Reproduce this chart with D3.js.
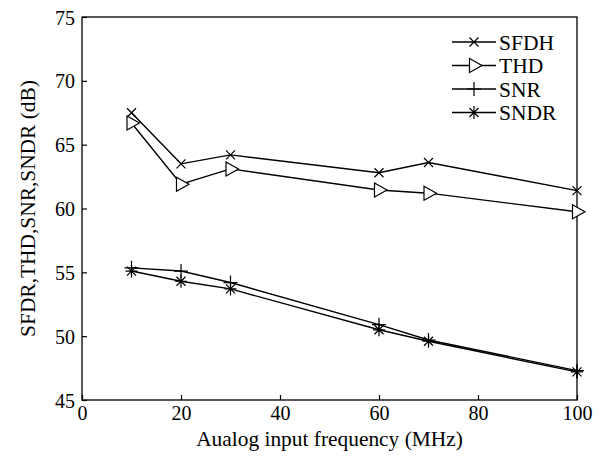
<!DOCTYPE html>
<html>
<head>
<meta charset="utf-8">
<script src="https://cdn.jsdelivr.net/npm/d3@7"></script>
<style>
  body { margin: 0; background: #fff; }
  text { font-family: "Liberation Serif", "Times New Roman", serif; fill: #000; }
</style>
</head>
<body>
<svg id="chart" width="603" height="459"></svg>
<script>
// values
const freq = [10, 20, 30, 60, 70, 100];
const sfdh = [67.5, 63.5, 64.2, 62.8, 63.6, 61.4];
const thd  = [66.7, 61.9, 63.1, 61.45, 61.2, 59.75];
const snr  = [55.35, 55.1, 54.2, 50.9, 49.7, 47.3];
const sndr = [55.1, 54.3, 53.7, 50.5, 49.6, 47.2];
const seriesNames = ["SFDH", "THD", "SNR", "SNDR"];
const xTicks = [0, 20, 40, 60, 80, 100];
const yTicks = [45, 50, 55, 60, 65, 70, 75];

const svg = d3.select("#chart");
const plotL = 82, plotR = 577, plotT = 17, plotB = 400;

const x = d3.scaleLinear().domain([0, 100]).range([plotL, plotR]);
const y = d3.scaleLinear().domain([45, 75]).range([plotB, plotT]);

// marker drawing
function marker(g, kind, cx, cy) {
    const m = g.append("g").attr("transform", `translate(${cx},${cy})`)
        .attr("fill", "none").attr("stroke", "#000").attr("stroke-width", 1.2);
    if (kind === "SFDH") {
        m.append("path").attr("d", "M-4.5,-4.5L4.5,4.5M-4.5,4.5L4.5,-4.5");
    } else if (kind === "THD") {
        m.append("path").attr("d", "M-4.5,-7L8,0L-4.5,7Z").attr("fill", "#fff");
    } else if (kind === "SNR") {
        m.append("path").attr("d", "M-7,0L7,0M0,-7L0,7");
    } else {
        m.append("path").attr("d", "M-6,0L6,0M0,-6.5L0,6.5M-4.5,-4.5L4.5,4.5M-4.5,4.5L4.5,-4.5");
    }
}

// frame
svg.append("rect")
    .attr("x", plotL).attr("y", plotT)
    .attr("width", plotR - plotL).attr("height", plotB - plotT)
    .attr("fill", "none").attr("stroke", "#000").attr("stroke-width", 1.3);

// axes with inward ticks
const xAxis = svg.append("g").attr("transform", `translate(0,${plotB})`)
    .call(d3.axisBottom(x).tickValues(xTicks).tickSizeInner(-5).tickSizeOuter(0).tickPadding(6));
const yAxis = svg.append("g").attr("transform", `translate(${plotL},0)`)
    .call(d3.axisLeft(y).tickValues(yTicks).tickSizeInner(-5).tickSizeOuter(0).tickPadding(7));
[xAxis, yAxis].forEach(a => {
    a.select(".domain").remove();
    a.selectAll("line").attr("stroke", "#000").attr("stroke-width", 1.2);
    a.selectAll("text").style("font-family", "Liberation Serif, serif").style("font-size", "20px").attr("fill", "#000");
});
xAxis.selectAll("text").attr("dy", "0.71em");
yAxis.selectAll("text").attr("dy", "0.35em");

// axis labels
svg.append("text")
    .attr("x", (plotL + plotR) / 2).attr("y", 446)
    .attr("text-anchor", "middle").style("font-size", "21.4px")
    .text("Aualog input frequency (MHz)");
svg.append("text")
    .attr("transform", `translate(35,${(plotT + plotB) / 2}) rotate(-90)`)
    .attr("text-anchor", "middle").style("font-size", "21.4px")
    .text("SFDR,THD,SNR,SNDR (dB)");

// series
const allSeries = [sfdh, thd, snr, sndr];
const line = d3.line().x(d => x(d[0])).y(d => y(d[1]));

allSeries.forEach((vals, i) => {
    const pts = freq.map((f, j) => [f, vals[j]]);
    svg.append("path").datum(pts)
        .attr("d", line)
        .attr("fill", "none").attr("stroke", "#000").attr("stroke-width", 1.4);
    const g = svg.append("g");
    pts.forEach(p => marker(g, seriesNames[i], x(p[0]), y(p[1])));
});

// legend
const leg = svg.append("g");
seriesNames.forEach((name, i) => {
    const ly = 42 + i * 23.5;
    leg.append("line").attr("x1", 452).attr("x2", 496).attr("y1", ly).attr("y2", ly)
        .attr("stroke", "#000").attr("stroke-width", 1.3);
    marker(leg, name, 474, ly);
    leg.append("text").attr("x", 499).attr("y", ly).attr("dy", "0.35em")
        .style("font-size", "21.5px").text(name);
});
</script>
</body>
</html>
